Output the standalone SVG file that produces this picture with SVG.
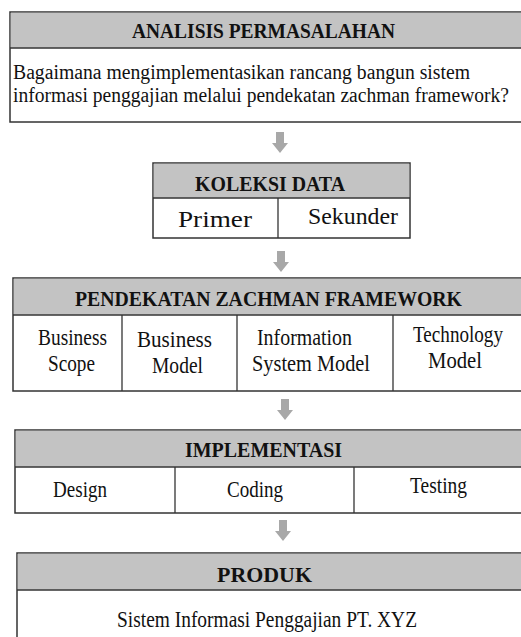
<svg xmlns="http://www.w3.org/2000/svg" xmlns:xlink="http://www.w3.org/1999/xlink" width="521" height="637" viewBox="0 0 521 637" font-family="'Liberation Serif', serif">
<style>
.box{fill:#ffffff;stroke:#333333;stroke-width:1.5}
.hdr{fill:#c3c3c3;stroke:none}
.ln{stroke:#333333;stroke-width:1.3;fill:none}
.h{font-family:'Liberation Serif', serif;font-weight:bold;font-size:21px;fill:#111111}
.t{font-family:'Liberation Serif', serif;font-size:23px;fill:#111111}
.b{font-family:'Liberation Serif', serif;font-size:20px;fill:#111111}
.arr{fill:#a8a8a8}
</style>
<defs>
<path id="arrow" d="M-4,0 H4 V11 H8 L0,21 L-8,11 H-4 Z"/>
</defs>
<rect width="521" height="637" fill="#ffffff"/>
<g id="connectors" class="arr">
<use xlink:href="#arrow" x="280" y="132"/>
<use xlink:href="#arrow" x="281" y="251"/>
<use xlink:href="#arrow" x="285" y="399"/>
<use xlink:href="#arrow" x="283" y="520"/>
</g>
<g id="analisis">
<rect class="box" x="10" y="12" width="525" height="110"/>
<rect class="hdr" x="10.75" y="12.75" width="523" height="35"/>
<line class="ln" x1="10" y1="48" x2="535" y2="48"/>
<text class="h" x="132" y="38" textLength="263" lengthAdjust="spacingAndGlyphs">ANALISIS  PERMASALAHAN</text>
<text class="b" x="13" y="79" textLength="457" lengthAdjust="spacingAndGlyphs">Bagaimana mengimplementasikan rancang bangun sistem</text>
<text class="b" x="13" y="102" textLength="496" lengthAdjust="spacingAndGlyphs">informasi penggajian melalui pendekatan zachman framework?</text>
</g>
<g id="koleksi">
<rect class="box" x="153" y="163" width="257" height="75"/>
<rect class="hdr" x="153.75" y="163.75" width="255.5" height="34"/>
<line class="ln" x1="153" y1="198" x2="410" y2="198"/>
<line class="ln" x1="278" y1="198" x2="278" y2="238"/>
<text class="h" x="195" y="191" textLength="150" lengthAdjust="spacingAndGlyphs">KOLEKSI DATA</text>
<text class="t" x="178" y="227" textLength="74" lengthAdjust="spacingAndGlyphs">Primer</text>
<text class="t" x="308" y="224" textLength="90" lengthAdjust="spacingAndGlyphs">Sekunder</text>
</g>
<g id="zachman">
<rect class="box" x="13" y="278" width="525" height="113"/>
<rect class="hdr" x="13.75" y="278.75" width="523" height="36"/>
<line class="ln" x1="13" y1="315" x2="538" y2="315"/>
<line class="ln" x1="122" y1="315" x2="122" y2="391"/>
<line class="ln" x1="237" y1="315" x2="237" y2="391"/>
<line class="ln" x1="393" y1="315" x2="393" y2="391"/>
<text class="h" x="75" y="306" textLength="387" lengthAdjust="spacingAndGlyphs">PENDEKATAN ZACHMAN FRAMEWORK</text>
<text class="t" x="38" y="345" textLength="69" lengthAdjust="spacingAndGlyphs">Business</text>
<text class="t" x="48" y="371" textLength="47" lengthAdjust="spacingAndGlyphs">Scope</text>
<text class="t" x="137" y="347" textLength="75" lengthAdjust="spacingAndGlyphs">Business</text>
<text class="t" x="152" y="373" textLength="51" lengthAdjust="spacingAndGlyphs">Model</text>
<text class="t" x="257" y="345" textLength="95" lengthAdjust="spacingAndGlyphs">Information</text>
<text class="t" x="252" y="371" textLength="118" lengthAdjust="spacingAndGlyphs">System Model</text>
<text class="t" x="413" y="342" textLength="90" lengthAdjust="spacingAndGlyphs">Technology</text>
<text class="t" x="428" y="368" textLength="54" lengthAdjust="spacingAndGlyphs">Model</text>
</g>
<g id="implementasi">
<rect class="box" x="15" y="430" width="525" height="83"/>
<rect class="hdr" x="15.75" y="430.75" width="523" height="36"/>
<line class="ln" x1="15" y1="467" x2="540" y2="467"/>
<line class="ln" x1="175" y1="467" x2="175" y2="513"/>
<line class="ln" x1="354" y1="467" x2="354" y2="513"/>
<text class="h" x="185" y="457" textLength="157" lengthAdjust="spacingAndGlyphs">IMPLEMENTASI</text>
<text class="t" x="53" y="497" textLength="54" lengthAdjust="spacingAndGlyphs">Design</text>
<text class="t" x="227" y="497" textLength="56" lengthAdjust="spacingAndGlyphs">Coding</text>
<text class="t" x="410" y="493" textLength="57" lengthAdjust="spacingAndGlyphs">Testing</text>
</g>
<g id="produk">
<rect class="box" x="17" y="553" width="525" height="100"/>
<rect class="hdr" x="17.75" y="553.75" width="523" height="36"/>
<line class="ln" x1="17" y1="590" x2="542" y2="590"/>
<text class="h" x="217" y="582" textLength="95" lengthAdjust="spacingAndGlyphs">PRODUK</text>
<text class="t" x="117" y="627" textLength="300" lengthAdjust="spacingAndGlyphs">Sistem Informasi Penggajian PT. XYZ</text>
</g>
</svg>
